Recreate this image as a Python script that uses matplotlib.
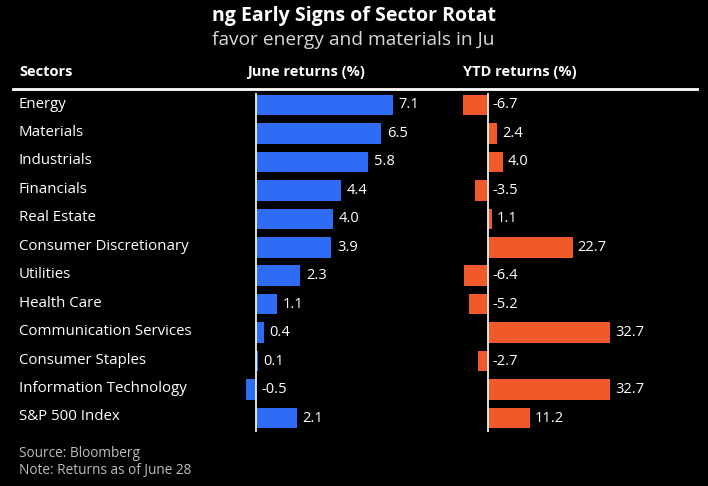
import matplotlib.pyplot as plt

plt.rcParams['font.family'] = ['Open Sans', 'DejaVu Sans']

sectors = ['Energy', 'Materials', 'Industrials', 'Financials', 'Real Estate',
           'Consumer Discretionary', 'Utilities', 'Health Care',
           'Communication Services', 'Consumer Staples',
           'Information Technology', 'S&P 500 Index']
june = [7.1, 6.5, 5.8, 4.4, 4.0, 3.9, 2.3, 1.1, 0.4, 0.1, -0.5, 2.1]
ytd = [-6.7, 2.4, 4.0, -3.5, 1.1, 22.7, -6.4, -5.2, 32.7, -2.7, 32.7, 11.2]

W, H = 708, 486
fig = plt.figure(figsize=(W / 100, H / 100), dpi=100, facecolor='black')

def px_axes(x0, y0, x1, y1):
    # pixel box (top-left origin) -> figure axes
    return fig.add_axes([x0 / W, 1 - y1 / H, (x1 - x0) / W, (y1 - y0) / H])

rows = list(range(len(sectors)))

ax1 = px_axes(240, 93, 440, 432)
ax1.barh(rows, june, height=0.72, color='#2f6cf6')
ax1.set_xlim(-16 / 19.3, 184 / 19.3)
ax1.axvline(0, color='white', lw=1.2)
for r, v in zip(rows, june):
    ax1.text(max(v, 0) + 0.3, r, f'{v:.1f}', color='white', va='center',
             ha='left', fontsize=10.5)

ax2 = px_axes(450, 93, 700, 432)
ax2.barh(rows, ytd, height=0.72, color='#f05a2a')
ax2.set_xlim(-38 / 3.73, 212 / 3.73)
ax2.axvline(0, color='white', lw=1.2)
for r, v in zip(rows, ytd):
    ax2.text(max(v, 0) + 1.3, r, f'{v:.1f}', color='white', va='center',
             ha='left', fontsize=10.5)

for ax in (ax1, ax2):
    ax.set_ylim(11.49, -0.42)
    ax.set_facecolor('none')
    ax.axis('off')

# sector names
for r, s in enumerate(sectors):
    fig.text(19 / W, 1 - (104 + r * 28.45) / H, s, color='white',
             fontsize=10.8, va='center', ha='left')

# header
fig.text(19 / W, 1 - 72 / H, 'Sectors', color='white', fontsize=10.5,
         fontweight='bold', va='center')
fig.text(247 / W, 1 - 72 / H, 'June returns (%)', color='white',
         fontsize=10.5, fontweight='bold', va='center')
fig.text(463 / W, 1 - 72 / H, 'YTD returns (%)', color='white',
         fontsize=10.5, fontweight='bold', va='center')
fig.add_artist(plt.Line2D([13 / W, 697 / W], [1 - 89 / H, 1 - 89 / H],
                          color='white', lw=2, transform=fig.transFigure))

# title / subtitle (cropped in the original)
fig.text(212 / W, 1 - 16 / H, 'ng Early Signs of Sector Rotat', color='white',
         fontsize=14, fontweight='bold', va='center', ha='left')
fig.text(212 / W, 1 - 40 / H, 'favor energy and materials in Ju',
         color='#d8d8d8', fontsize=13.8, va='center', ha='left')

# footer
fig.text(19 / W, 1 - 453 / H, 'Source: Bloomberg', color='#bdbdbd',
         fontsize=9.8, va='center')
fig.text(19 / W, 1 - 470 / H, 'Note: Returns as of June 28', color='#bdbdbd',
         fontsize=9.8, va='center')

fig.savefig('out.png', dpi=100, facecolor='black')
